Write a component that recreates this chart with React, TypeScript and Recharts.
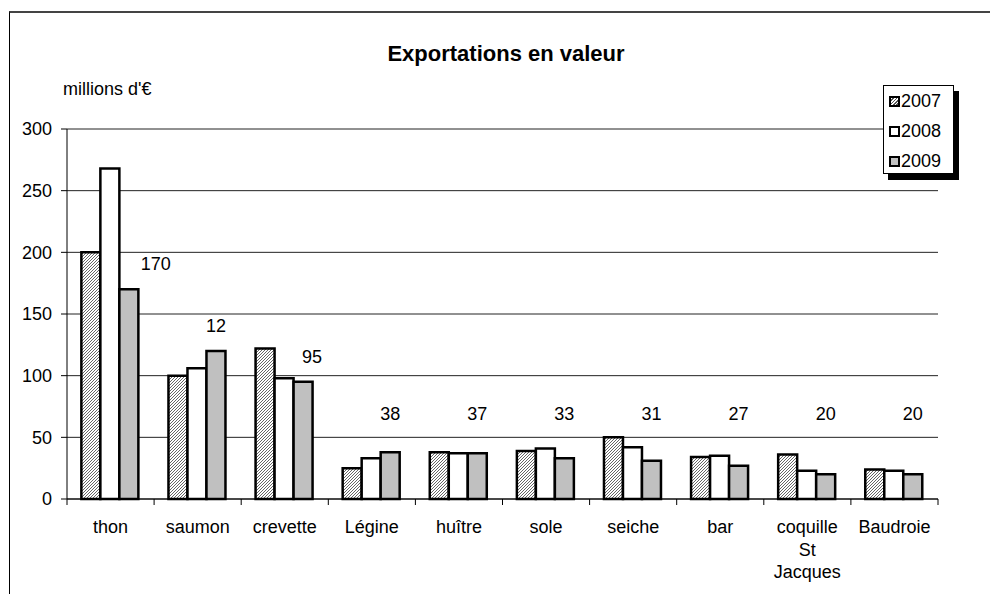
import React from 'react';
import { BarChart, Bar, XAxis, YAxis, CartesianGrid } from 'recharts';

const CATEGORIES = ['thon', 'saumon', 'crevette', 'Légine', 'huître', 'sole', 'seiche', 'bar', 'coquille St Jacques', 'Baudroie'];
const V2007 = [200, 100, 122, 25, 38, 39, 50, 34, 36, 24];
const V2008 = [268, 106, 98, 33, 37, 41, 42, 35, 23, 23];
const V2009 = [170, 120, 95, 38, 37, 33, 31, 27, 20, 20];
const LABELS_2009 = ['170', '12', '95', '38', '37', '33', '31', '27', '20', '20'];
const Y_TICKS = [0, 50, 100, 150, 200, 250, 300];

const FONT = '"Liberation Sans", Arial, sans-serif';
const PLOT_LEFT = 67;
const PLOT_RIGHT = 938;
const BAND = (PLOT_RIGHT - PLOT_LEFT) / CATEGORIES.length;

const data = CATEGORIES.map((name, i) => ({ name, y2007: V2007[i], y2008: V2008[i], y2009: V2009[i] }));

const CategoryTick = (props: any) => {
  const { x, y, payload, index } = props;
  const words = String(payload.value).split(' ');
  const half = BAND / 2;
  return (
    <g>
      <line x1={x - half} x2={x - half} y1={y} y2={y + 6} stroke="#000" />
      {index === CATEGORIES.length - 1 && <line x1={x + half} x2={x + half} y1={y} y2={y + 6} stroke="#000" />}
      <text x={x} y={y + 34} textAnchor="middle" fontSize={18} fontFamily={FONT} fill="#000">
        {words.map((w, i) => (
          <tspan key={i} x={x} dy={i === 0 ? 0 : 22.5}>{w}</tspan>
        ))}
      </text>
    </g>
  );
};

// labels sit above the 2009 bars, but never lower than a fixed line
const renderLabel = (p: any) => {
  const { x, y, width, index } = p;
  const dx = index === 0 ? 27 : index === 2 ? 9 : 0;
  const cy = Math.min(y - 25, 414);
  return (
    <text x={x + width / 2 + dx} y={cy} textAnchor="middle" dominantBaseline="central" fontSize={18} fontFamily={FONT} fill="#000">
      {LABELS_2009[index]}
    </text>
  );
};

const hatch = 'repeating-linear-gradient(135deg, #fff 0px, #fff 1.2px, #555 1.2px, #555 2.4px)';

const LegendBox = () => {
  const items = [
    { label: '2007', bg: hatch },
    { label: '2008', bg: '#fff' },
    { label: '2009', bg: '#c0c0c0' },
  ];
  return (
    <div style={{ position: 'absolute', left: 883, top: 85, width: 69, height: 87, border: '1px solid #000', background: '#fff', boxShadow: '5px 6px 0 #000' }}>
      {items.map((it, i) => (
        <div key={it.label} style={{ position: 'absolute', left: 5, top: 6 + i * 30, display: 'flex', alignItems: 'center', fontFamily: FONT, fontSize: 18, lineHeight: '18px' }}>
          <span style={{ display: 'inline-block', width: 7, height: 7, border: '2px solid #000', background: it.bg, marginRight: 1 }} />
          <span>{it.label}</span>
        </div>
      ))}
    </div>
  );
};

export default function App() {
  return (
    <div style={{ position: 'absolute', left: 0, top: 0, width: 990, height: 594, background: '#fff', overflow: 'hidden' }}>
      <div style={{ position: 'absolute', left: 9, top: 11, right: 0, bottom: 0, borderTop: '2px solid #444', borderLeft: '1px solid #000' }} />
      <div style={{ position: 'absolute', left: 506, top: 43, transform: 'translateX(-50%)', whiteSpace: 'nowrap', fontFamily: FONT, fontSize: 22, lineHeight: '22px', fontWeight: 'bold' }}>
        Exportations en valeur
      </div>
      <div style={{ position: 'absolute', left: 63, top: 80, whiteSpace: 'nowrap', fontFamily: FONT, fontSize: 18, lineHeight: '18px' }}>
        millions d'€
      </div>
      <div style={{ position: 'absolute', left: 0, top: 0 }}>
        <BarChart width={990} height={594} data={data} margin={{ top: 129, right: 990 - PLOT_RIGHT, bottom: 15, left: 0 }} barCategoryGap="16.5%" barGap={0}>
          <defs>
            <pattern id="hatch2007" patternUnits="userSpaceOnUse" width={3} height={3}>
              <rect width={3} height={3} fill="#fff" />
              <path d="M-1,1 L1,-1 M0,3 L3,0 M2,4 L4,2" stroke="#555" strokeWidth={0.9} />
            </pattern>
          </defs>
          <CartesianGrid vertical={false} stroke="#222" />
          <XAxis dataKey="name" interval={0} height={80} tickLine={false} tickSize={0} tickMargin={0} axisLine={{ stroke: '#000' }} tick={<CategoryTick />} />
          <YAxis
            width={PLOT_LEFT}
            domain={[0, 300]}
            ticks={Y_TICKS}
            interval={0}
            tickSize={6}
            tickMargin={9}
            axisLine={{ stroke: '#000' }}
            tickLine={{ stroke: '#000' }}
            tick={{ fontSize: 18, fontFamily: FONT, fill: '#000' }}
          />
          <Bar dataKey="y2007" fill="url(#hatch2007)" stroke="#000" strokeWidth={2.5} isAnimationActive={false} />
          <Bar dataKey="y2008" fill="#fff" stroke="#000" strokeWidth={2.5} isAnimationActive={false} />
          <Bar dataKey="y2009" fill="#c0c0c0" stroke="#000" strokeWidth={2.5} isAnimationActive={false} label={renderLabel} />
        </BarChart>
      </div>
      <LegendBox />
    </div>
  );
}
